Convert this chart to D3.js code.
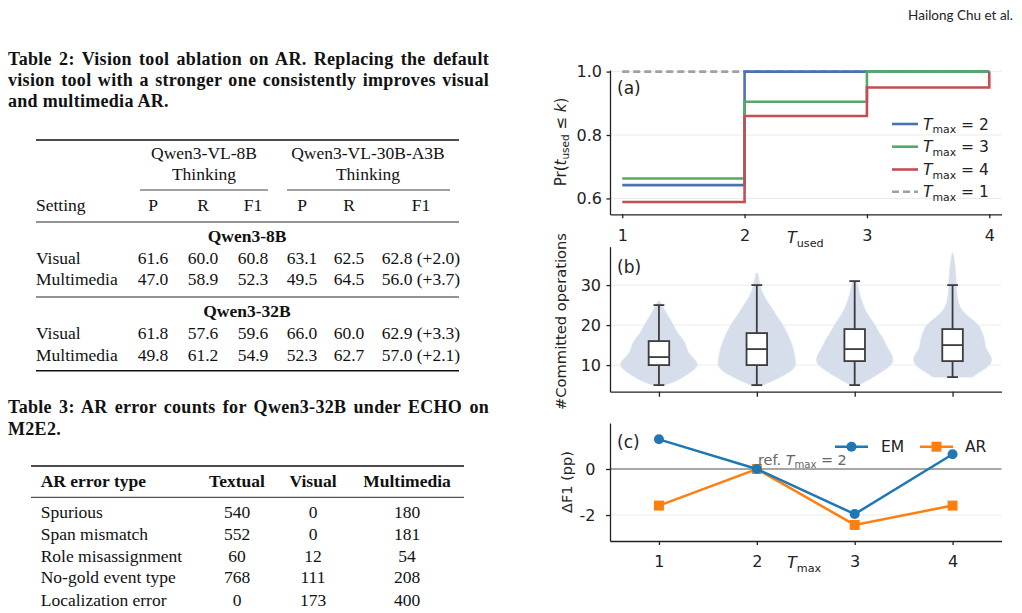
<!DOCTYPE html>
<html lang="en">
<head>
<meta charset="UTF-8">
<title>Vision tool ablation and tool budget</title>
<script src="https://d3js.org/d3.v7.min.js"></script>
<style>
  body { margin: 0; background: #fff; }
  svg { display: block; }
  .serif { font-family: "Liberation Serif", "DejaVu Serif", serif; fill: #111; }
  .sans { font-family: "DejaVu Sans", sans-serif; fill: #222; }
  .axis text { font-family: "DejaVu Sans", sans-serif; font-size: 16px; fill: #222; }
  .axis path, .axis line { stroke: #222; stroke-width: 1.3; }
</style>
</head>
<body>
<svg id="page" width="1022" height="613"></svg>
<script>
// ---------- data: tables ----------
const t2Caption = [
  "Table 2: Vision tool ablation on AR. Replacing the default",
  "vision tool with a stronger one consistently improves visual",
  "and multimedia AR."
];
const t2Models = ["Qwen3-VL-8B", "Qwen3-VL-30B-A3B"];
const t2Cols = ["P", "R", "F1", "P", "R", "F1"];
const t2Groups = ["Qwen3-8B", "Qwen3-32B"];
const t2Settings = ["Visual", "Multimedia"];
const t2Scores8B = [[61.6, 60.0, 60.8, 63.1, 62.5, 62.8], [47.0, 58.9, 52.3, 49.5, 64.5, 56.0]];
const t2Scores32B = [[61.8, 57.6, 59.6, 66.0, 60.0, 62.9], [49.8, 61.2, 54.9, 52.3, 62.7, 57.0]];
const t2Gain8B = [2.0, 3.7];
const t2Gain32B = [3.3, 2.1];

const t3Caption = ["Table 3: AR error counts for Qwen3-32B under ECHO on", "M2E2."];
const t3Cols = ["Textual", "Visual", "Multimedia"];
const errTypes = ["Spurious", "Span mismatch", "Role misassignment", "No-gold event type", "Localization error"];
const errTextual = [540, 552, 60, 768, 0];
const errVisual = [0, 0, 12, 111, 173];
const errMultimedia = [180, 181, 54, 208, 400];

// ---------- data: panel (a) CDF of used turns ----------
const tUsed = [1, 2, 3, 4];
const cdfT2 = [0.642, 1.0, 1.0, 1.0];
const cdfT3 = [0.663, 0.905, 1.0, 1.0];
const cdfT4 = [0.589, 0.86, 0.95, 1.0];
const cdfT1 = [1.0, 1.0, 1.0, 1.0];

// ---------- data: panel (b) committed operations ----------
const violin1 = [[5,0.15],[6,0.45],[7,0.62],[8,0.78],[9,0.92],[10,1.0],[11,0.95],[12,0.85],[13,0.76],[14,0.71],[15,0.69],[16,0.64],[17,0.56],[18,0.48],[19,0.42],[20,0.37],[21,0.31],[22,0.25],[23,0.19],[24,0.13],[25,0.08],[26,0.02]];
const violin2 = [[4.8,0.1],[6,0.4],[7,0.6],[8,0.8],[9,0.93],[10,1.0],[11,0.99],[12,0.97],[13,0.95],[14,0.93],[15,0.9],[16,0.86],[17,0.82],[18,0.77],[19,0.72],[20,0.67],[21,0.6],[22,0.53],[23,0.46],[24,0.4],[25,0.33],[26,0.26],[27,0.2],[28,0.15],[29,0.11],[30,0.08],[31,0.06],[32,0.04],[33,0.02]];
const violin3 = [[5,0.1],[6,0.3],[7,0.47],[8,0.64],[9,0.8],[10,0.93],[11,0.98],[12,0.97],[13,0.92],[14,0.86],[15,0.8],[16,0.76],[17,0.7],[18,0.63],[19,0.57],[20,0.52],[21,0.45],[22,0.38],[23,0.31],[24,0.26],[25,0.22],[26,0.18],[27,0.15],[28,0.12],[29,0.1],[30,0.08],[31,0.05]];
const violin4 = [[7,0.5],[8,0.65],[9,0.82],[10,0.95],[11,1.0],[12,0.99],[13,0.93],[14,0.86],[15,0.83],[16,0.82],[17,0.8],[18,0.76],[19,0.72],[20,0.67],[21,0.55],[22,0.42],[23,0.3],[24,0.22],[25,0.17],[26,0.14],[27,0.12],[28,0.11],[29,0.1],[30,0.1],[31,0.09],[32,0.09],[33,0.08],[34,0.07],[35,0.06],[36,0.05],[37,0.03],[38,0.01]];
const boxMin = [5, 5, 5, 7];
const boxQ1 = [10, 10, 11, 11];
const boxMed = [12, 14, 14, 15];
const boxQ3 = [16, 18, 19, 19];
const boxMax = [25, 30, 31, 30];

// ---------- data: panel (c) delta F1 ----------
const tMax = [1, 2, 3, 4];
const deltaEM = [1.29, 0, -1.96, 0.64];
const deltaAR = [-1.59, 0, -2.43, -1.59];

const svg = d3.select("#page");
svg.append("rect").attr("width", 1022).attr("height", 613).attr("fill", "#fff");

// running header
svg.append("text").attr("x", 1013).attr("y", 19.5).attr("text-anchor", "end")
  .style("font-family", "Lato, 'Open Sans', sans-serif").style("font-size", "13.5px").style("fill", "#222")
  .text("Hailong Chu et al.");

// ---------- tables ----------
// justified lines: stretch the word gaps only, like TeX does
function caption(lines, baselines, justifyCount) {
  lines.forEach((s, i) => {
    const t = svg.append("text").attr("class", "serif").attr("x", 8).attr("y", baselines[i])
      .style("font-size", "18px").style("font-weight", "bold").style("letter-spacing", "0.3px")
      .style("white-space", "pre").text(s);
    if (i < justifyCount) {
      const w = t.node().getComputedTextLength();
      const gaps = s.split(" ").length - 1;
      t.style("word-spacing", Math.max(0, (481 - w) / gaps) + "px");
    }
  });
}
function rule(x1, x2, y, w) {
  svg.append("line").attr("x1", x1).attr("x2", x2).attr("y1", y).attr("y2", y)
    .attr("stroke", "#111").attr("stroke-width", w);
}
function cell(x, y, s, anchor, bold) {
  svg.append("text").attr("class", "serif").attr("x", x).attr("y", y)
    .attr("text-anchor", anchor || "middle").style("font-size", "17.5px")
    .style("font-weight", bold ? "bold" : "normal").text(s);
}

caption(t2Caption, [65, 86, 106.7], 2);
const t2X = [153, 203, 253, 302, 349, 421];
rule(36, 459, 140, 1.5);
cell(204, 159.3, t2Models[0]); cell(204, 180, "Thinking");
cell(368, 159.3, t2Models[1]); cell(368, 180, "Thinking");
rule(140, 268, 190, 0.8);
rule(287, 450, 190, 0.8);
cell(36, 210.7, "Setting", "start");
t2Cols.forEach((c, i) => cell(t2X[i], 210.7, c));
rule(36, 459, 222, 0.9);

function t2Block(group, scores, gains, yGroup, yRows) {
  cell(247, yGroup, group, "middle", true);
  t2Settings.forEach((s, r) => {
    cell(36, yRows[r], s, "start");
    scores[r].forEach((v, c) => {
      const txt = c === 5 ? v.toFixed(1) + " (+" + gains[r].toFixed(1) + ")" : v.toFixed(1);
      cell(t2X[c], yRows[r], txt);
    });
  });
}
t2Block(t2Groups[0], t2Scores8B, t2Gain8B, 241.7, [264, 285]);
rule(36, 459, 297, 0.9);
t2Block(t2Groups[1], t2Scores32B, t2Gain32B, 316.7, [339.3, 360.7]);
rule(36, 459, 370.7, 1.5);

caption(t3Caption, [413.3, 435], 1);
const t3X = [237, 313, 407];
rule(31, 464, 466, 1.5);
cell(40.7, 487.3, "AR error type", "start", true);
t3Cols.forEach((c, i) => cell(t3X[i], 487.3, c, "middle", true));
rule(31, 464, 497.3, 0.9);
const t3RowY = [518.3, 540, 561.7, 583.3, 605.5];
errTypes.forEach((e, r) => {
  cell(40.7, t3RowY[r], e, "start");
  [errTextual, errVisual, errMultimedia].forEach((col, c) => cell(t3X[c], t3RowY[r], String(col[r])));
});

// ---------- chart helpers ----------
function mathT(parent, x, y, sub, rest, size, prefix) {
  const t = parent.append("text").attr("class", "sans").attr("x", x).attr("y", y)
    .style("font-size", size + "px").style("white-space", "pre");
  if (prefix) t.append("tspan").text(prefix);
  t.append("tspan").style("font-style", "italic").text("T");
  t.append("tspan").style("font-size", (size * 0.7) + "px").attr("dy", size * 0.22).text(sub);
  if (rest) t.append("tspan").attr("dy", -size * 0.22).text(rest);
  return t;
}
function grid(g, y, ticks, x0, x1) {
  g.append("g").selectAll("line").data(ticks).join("line")
    .attr("x1", x0).attr("x2", x1).attr("y1", d => y(d)).attr("y2", d => y(d))
    .attr("stroke", "#ebebeb").attr("stroke-width", 1);
}
const L = 610, R = 1001.5;

// ---------- panel (a) ----------
const ga = svg.append("g");
const xa = d3.scaleLinear().domain([0.9, 4.1]).range([L, R]);
const ya = d3.scaleLinear().domain([0.55, 1.005]).range([214.3, 70]);
grid(ga, ya, [0.6, 0.8, 1.0], L, R);
const step = d3.line().x(d => xa(d[0])).y(d => ya(d[1])).curve(d3.curveStepAfter);
const aSeries = [
  { v: cdfT1, c: "#a0a0a0", dash: "7,4" },
  { v: cdfT2, c: "#4c72b0" },
  { v: cdfT3, c: "#55a868" },
  { v: cdfT4, c: "#c44e52" }
];
aSeries.forEach(s => {
  ga.append("path").attr("d", step(tUsed.map((t, i) => [t, s.v[i]])))
    .attr("fill", "none").attr("stroke", s.c).attr("stroke-width", 2.6)
    .attr("stroke-dasharray", s.dash || null);
});
ga.append("g").attr("class", "axis").attr("transform", `translate(${L},0)`)
  .call(d3.axisLeft(ya).tickValues([0.6, 0.8, 1.0]).tickFormat(d3.format(".1f")).tickSize(3.5).tickPadding(4.5).tickSizeOuter(0));
ga.append("g").attr("class", "axis").attr("transform", "translate(0,214.3)")
  .call(d3.axisBottom(xa).tickValues(tUsed).tickFormat(d3.format("d")).tickSize(4).tickPadding(11.5).tickSizeOuter(0));
ga.append("text").attr("class", "sans").attr("x", 617).attr("y", 94).style("font-size", "17px").text("(a)");
mathT(ga, 787, 243.3, "used", null, 16);
// y label
const yla = ga.append("text").attr("class", "sans").attr("transform", "translate(566,142) rotate(-90)")
  .attr("text-anchor", "middle").style("font-size", "15px").style("white-space", "pre");
yla.append("tspan").text("Pr(");
yla.append("tspan").style("font-style", "italic").text("t");
yla.append("tspan").style("font-size", "10.5px").attr("dy", 3.3).text("used");
yla.append("tspan").attr("dy", -3.3).text(" ≤ ");
yla.append("tspan").style("font-style", "italic").text("k");
yla.append("tspan").text(")");
// legend
const legA = [
  { c: "#4c72b0", rest: " = 2" },
  { c: "#55a868", rest: " = 3" },
  { c: "#c44e52", rest: " = 4" },
  { c: "#a0a0a0", rest: " = 1", dash: "7,4" }
];
const legY = [124, 146.7, 169.5, 191.7];
legA.forEach((d, i) => {
  ga.append("line").attr("x1", 892).attr("x2", 918).attr("y1", legY[i]).attr("y2", legY[i])
    .attr("stroke", d.c).attr("stroke-width", 2.6).attr("stroke-dasharray", d.dash || null);
  mathT(ga, 923, legY[i] + 5.6, "max", d.rest, 15.5);
});

// ---------- panel (b) ----------
const gb = svg.append("g");
const xb = d3.scaleLinear().domain([-0.5, 3.5]).range([L, R]);
const yb = d3.scaleLinear().domain([3.35, 39.6]).range([391.7, 246.7]);
grid(gb, yb, [10, 20, 30], L, R);
const violins = [violin1, violin2, violin3, violin4];
violins.forEach((prof, i) => {
  const area = d3.area().curve(d3.curveBasis)
    .y(d => yb(d[0]))
    .x0(d => xb(i - d[1] * 0.4))
    .x1(d => xb(i + d[1] * 0.4));
  gb.append("path").attr("d", area(prof)).attr("fill", "#d5deea").attr("stroke", "#dde4ee").attr("stroke-width", 0.8);
});
const boxStroke = "#3c3c3c";
d3.range(4).forEach(i => {
  const g = gb.append("g").attr("stroke", boxStroke).attr("stroke-width", 1.8);
  g.append("line").attr("x1", xb(i)).attr("x2", xb(i)).attr("y1", yb(boxMin[i])).attr("y2", yb(boxQ1[i]));
  g.append("line").attr("x1", xb(i)).attr("x2", xb(i)).attr("y1", yb(boxQ3[i])).attr("y2", yb(boxMax[i]));
  [boxMin[i], boxMax[i]].forEach(v => g.append("line")
    .attr("x1", xb(i - 0.055)).attr("x2", xb(i + 0.055)).attr("y1", yb(v)).attr("y2", yb(v)));
  g.append("rect").attr("x", xb(i - 0.105)).attr("width", xb(0.105) - xb(-0.105))
    .attr("y", yb(boxQ3[i])).attr("height", yb(boxQ1[i]) - yb(boxQ3[i])).attr("fill", "#fff");
  g.append("line").attr("x1", xb(i - 0.105)).attr("x2", xb(i + 0.105)).attr("y1", yb(boxMed[i])).attr("y2", yb(boxMed[i]));
});
gb.append("g").attr("class", "axis").attr("transform", `translate(${L},0)`)
  .call(d3.axisLeft(yb).tickValues([10, 20, 30]).tickSize(3.5).tickPadding(5.5).tickSizeOuter(0));
gb.append("g").attr("class", "axis").attr("transform", "translate(0,391.7)")
  .call(d3.axisBottom(xb).tickValues([0, 1, 2, 3]).tickFormat("").tickSize(5).tickSizeOuter(0));
gb.append("text").attr("class", "sans").attr("x", 617).attr("y", 272.5).style("font-size", "17px").text("(b)");
gb.append("text").attr("class", "sans").attr("transform", "translate(566,321.5) rotate(-90)")
  .attr("text-anchor", "middle").style("font-size", "14.7px").text("#Committed operations");

// ---------- panel (c) ----------
const gc = svg.append("g");
const xc = d3.scaleLinear().domain([0.5, 4.5]).range([L, R]);
const yc = d3.scaleLinear().domain([-3.13, 2.0]).range([541, 423]);
grid(gc, yc, [-2], L, R);
gc.append("line").attr("x1", L).attr("x2", R).attr("y1", yc(0)).attr("y2", yc(0))
  .attr("stroke", "#8a8a8a").attr("stroke-width", 1.3);
const ln = d3.line().x((d, i) => xc(tMax[i])).y(d => yc(d));
gc.append("path").attr("d", ln(deltaAR)).attr("fill", "none").attr("stroke", "#ff7f0e").attr("stroke-width", 2.5);
gc.append("g").selectAll("rect").data(deltaAR).join("rect")
  .attr("x", (d, i) => xc(tMax[i]) - 5).attr("y", d => yc(d) - 5).attr("width", 10).attr("height", 10).attr("fill", "#ff7f0e");
gc.append("path").attr("d", ln(deltaEM)).attr("fill", "none").attr("stroke", "#1f77b4").attr("stroke-width", 2.5);
gc.append("g").selectAll("circle").data(deltaEM).join("circle")
  .attr("cx", (d, i) => xc(tMax[i])).attr("cy", d => yc(d)).attr("r", 5).attr("fill", "#1f77b4");
gc.append("g").attr("class", "axis").attr("transform", `translate(${L},0)`)
  .call(d3.axisLeft(yc).tickValues([-2, 0]).tickFormat(d => String(d)).tickSize(4).tickPadding(10.5).tickSizeOuter(0));
gc.append("g").attr("class", "axis").attr("transform", "translate(0,541)")
  .call(d3.axisBottom(xc).tickValues(tMax).tickFormat(d3.format("d")).tickSize(4).tickPadding(10.3).tickSizeOuter(0));
gc.append("text").attr("class", "sans").attr("x", 617).attr("y", 448).style("font-size", "17px").text("(c)");
mathT(gc, 787, 568.3, "max", null, 16);
mathT(gc, 758, 465, "max", " = 2", 14.4, "ref. ").style("fill", "#666");
gc.append("text").attr("class", "sans").attr("transform", "translate(572,482) rotate(-90)")
  .attr("text-anchor", "middle").style("font-size", "14.5px").text("ΔF1 (pp)");
// legend (c)
gc.append("line").attr("x1", 835).attr("x2", 868).attr("y1", 446.7).attr("y2", 446.7).attr("stroke", "#1f77b4").attr("stroke-width", 2.5);
gc.append("circle").attr("cx", 851.5).attr("cy", 446.7).attr("r", 5).attr("fill", "#1f77b4");
gc.append("text").attr("class", "sans").attr("x", 881).attr("y", 452.3).style("font-size", "15.5px").text("EM");
gc.append("line").attr("x1", 920).attr("x2", 953).attr("y1", 446.7).attr("y2", 446.7).attr("stroke", "#ff7f0e").attr("stroke-width", 2.5);
gc.append("rect").attr("x", 931.5).attr("y", 441.7).attr("width", 10).attr("height", 10).attr("fill", "#ff7f0e");
gc.append("text").attr("class", "sans").attr("x", 965).attr("y", 452.3).style("font-size", "15.5px").text("AR");
</script>
</body>
</html>
